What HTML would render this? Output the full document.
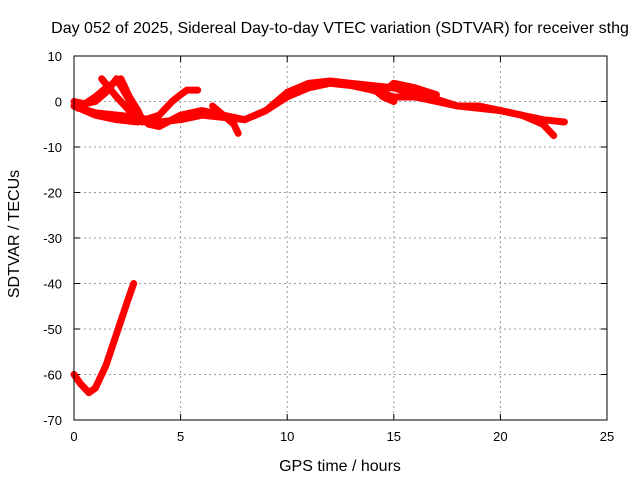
<!DOCTYPE html>
<html><head><meta charset="utf-8"><style>
body{margin:0;background:#fff;font-family:"Liberation Sans",sans-serif}
svg text{font-family:"Liberation Sans",sans-serif;font-size:13px;fill:#000}
svg text.big{font-size:16px}
</style></head><body>
<svg id="chart" width="640" height="480">
<text class="big" x="340" y="33" text-anchor="middle">Day 052 of 2025, Sidereal Day-to-day VTEC variation (SDTVAR) for receiver sthg</text>
<text class="big" x="340" y="471" text-anchor="middle">GPS time / hours</text>
<text class="big" transform="translate(19,234) rotate(-90)" text-anchor="middle">SDTVAR / TECUs</text>
<g id="grid"></g><g id="ticks"></g><g id="series"></g>
<rect x="74" y="56" width="533" height="364" fill="none" stroke="#000"/>
</svg>
<script>
const xTicks=[0,5,10,15,20,25];
const yTicks=[10,0,-10,-20,-30,-40,-50,-60,-70];
const s1=[[0,-1],[1,-2.5],[2,-3],[3,-3.5],[4,-4.5],[5,-4],[6,-3],[7,-3.5],[8,-4],[9,-2],[10,1],[11,3],[12,4],[13,3.5],[14,2.5],[15,1],[16,1],[17,0],[18,-1],[19,-1.5],[20,-2],[21,-3],[22,-4],[23,-4.5]];
const s2=[[0,0],[0.5,-0.5],[1,0],[1.5,2],[2,5],[2.5,1],[3,-3],[3.5,-5],[4,-5.5],[5,-3],[6,-2],[7,-3],[8,-4],[9,-2],[10,2],[11,4],[12,4.5],[13,4],[14,3.5],[15,3],[16,1.5],[17,0.5],[18,-1],[19,-1],[20,-2],[21,-3],[22,-5],[22.5,-7.5]];
const s3=[[0,-1],[1,-3],[2,-4],[3,-4.5],[4,-3],[4.6,0],[5,1.5],[5.3,2.5],[5.8,2.5]];
const s4=[[0.2,-1.5],[1,1],[1.5,3],[2.2,5],[2.6,1],[3,-2],[3.2,-4]];
const s5=[[1.3,5],[2,1],[2.8,-3],[3.2,-4.5]];
const s6=[[6.5,-1],[7,-3],[7.5,-5],[7.7,-7]];
const s7=[[14,3],[14.5,1],[15,0],[14.5,2],[15,4],[16,3],[17,1.5]];
const s8=[[0,-60],[0.3,-62],[0.7,-64],[1,-63],[1.5,-58],[2,-51],[2.5,-44],[2.8,-40]];
const allSeries=[s1,s2,s3,s4,s5,s6,s7,s8];
const X=v=>74+v*533/25, Y=v=>56+(10-v)*364/80;
const NS="http://www.w3.org/2000/svg";
const grid=document.getElementById('grid'),ticks=document.getElementById('ticks'),ser=document.getElementById('series');
function mk(tag,attrs,parent){const e=document.createElementNS(NS,tag);for(const k in attrs)e.setAttribute(k,attrs[k]);parent.appendChild(e);return e;}
xTicks.forEach(t=>{
 if(t>0&&t<25){const g=mk('line',{x1:X(t),x2:X(t),y1:56,y2:420,stroke:'#999','stroke-dasharray':'2,3'},grid);
 
 }
 const l=mk('text',{x:X(t),y:441,'text-anchor':'middle'},ticks);l.textContent=t;
 
 
 mk('line',{x1:X(t),x2:X(t),y1:420,y2:414,stroke:'#000'},ticks);
 mk('line',{x1:X(t),x2:X(t),y1:56,y2:62,stroke:'#000'},ticks);
});
yTicks.forEach(t=>{
 if(t<10&&t>-70){const g=mk('line',{x1:74,x2:607,y1:Y(t),y2:Y(t),stroke:'#999','stroke-dasharray':'2,3'},grid);
 
 }
 const l=mk('text',{x:62,y:Y(t)+5,'text-anchor':'end'},ticks);l.textContent=t;
 
 
 mk('line',{x1:74,x2:80,y1:Y(t),y2:Y(t),stroke:'#000'},ticks);
 mk('line',{x1:607,x2:601,y1:Y(t),y2:Y(t),stroke:'#000'},ticks);
});
allSeries.forEach((s,i)=>{
 const p=mk('polyline',{points:s.map(d=>X(d[0])+','+Y(d[1])).join(' '),fill:'none',stroke:'#f00','stroke-width':7,'stroke-linejoin':'round','stroke-linecap':'round'},ser);
 
 
});
</script>
</body></html>
